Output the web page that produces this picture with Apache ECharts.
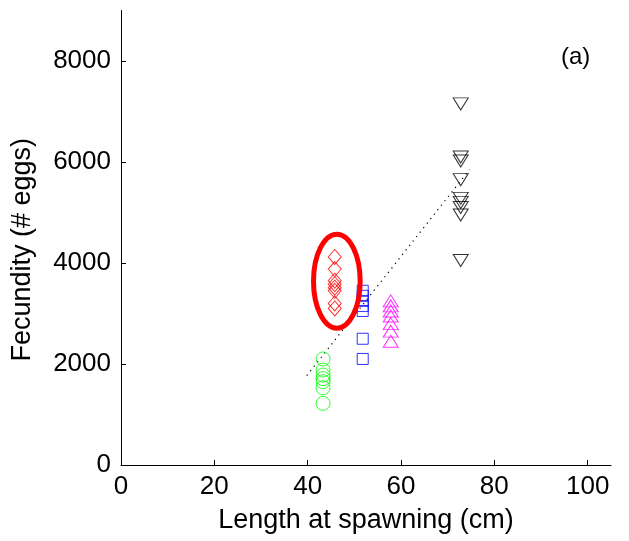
<!DOCTYPE html>
<html>
<head>
<meta charset="utf-8">
<script src="https://cdn.jsdelivr.net/npm/echarts@6/dist/echarts.min.js"></script>
<style>html,body{margin:0;padding:0;background:#fff;}#c{width:629px;height:541px;}</style>
</head>
<body>
<div id="c"></div>
<script>
// Data
var xTicks = [0, 20, 40, 60, 80, 100];
var yTicks = [0, 2000, 4000, 6000, 8000];

var greenX = 43.3;
var greenY = [2100, 1880, 1780, 1710, 1650, 1530, 1220];
var redX = 45.8;
var redY = [4120, 3880, 3650, 3580, 3510, 3450, 3200, 3100];
var blueX = 51.8;
var blueY = [3450, 3350, 3250, 3150, 3050, 2500, 2100];
var magentaX = 57.8;
var magentaY = [3250, 3150, 3050, 2950, 2800, 2650, 2450];
var blackX = 72.8;
var blackY = [7150, 6100, 6020, 5650, 5280, 5200, 5100, 4950, 4050];

var fitLine = [[39.8, 1770], [74.7, 5850]];
// highlight ellipse: centre and radii in data units
var ellipseCenter = [46.25, 3640];
var ellipseRadius = [5.0, 930];

function pts(x, ys) { return ys.map(function (y) { return [x, y]; }); }

var FONT = 'Liberation Sans, Arial, sans-serif';
var chart = echarts.init(document.getElementById('c'), null, {renderer: 'canvas'});

function hollow(color) {
  return {color: 'rgba(0,0,0,0)', borderColor: color, borderWidth: 1};
}
function plain(v) { return String(v); }

chart.setOption({
  animation: false,
  backgroundColor: '#fff',
  grid: {left: 121, right: 18, top: 10.5, bottom: 76, containLabel: false},
  xAxis: {
    type: 'value', min: 0, max: 105, interval: 20,
    name: 'Length at spawning (cm)', nameLocation: 'middle', nameGap: 42,
    nameTextStyle: {fontFamily: FONT, fontSize: 27, color: '#000'},
    axisLine: {show: true, lineStyle: {color: '#000', width: 1}},
    axisTick: {show: true, inside: true, length: 5, customValues: xTicks, lineStyle: {color: '#000'}},
    axisLabel: {customValues: xTicks, formatter: plain, fontFamily: FONT, fontSize: 26, color: '#000', margin: 9},
    splitLine: {show: false}
  },
  yAxis: {
    type: 'value', min: 0, max: 9000, interval: 2000,
    name: 'Fecundity (# eggs)', nameLocation: 'middle', nameGap: 85, nameRotate: 90,
    nameTextStyle: {fontFamily: FONT, fontSize: 27, color: '#000', padding: [0, 24, 0, 0]},
    axisLine: {show: true, lineStyle: {color: '#000', width: 1}},
    axisTick: {show: true, inside: true, length: 5, customValues: yTicks, lineStyle: {color: '#000'}},
    axisLabel: {customValues: yTicks, formatter: plain, fontFamily: FONT, fontSize: 26, color: '#000', margin: 10},
    splitLine: {show: false}
  },
  graphic: [{
    type: 'text', left: 561, top: 45,
    style: {text: '(a)', font: '24px ' + FONT, fill: '#000'}
  }],
  series: [
    {type: 'line', data: fitLine, symbol: 'none', silent: true,
     lineStyle: {color: '#000', width: 1.2, type: [1.2, 4.5]}, z: 1},
    {type: 'scatter', data: pts(greenX, greenY), symbol: 'circle', symbolSize: 14,
     itemStyle: hollow('#00ff00'), z: 2},
    {type: 'scatter', data: pts(redX, redY), symbol: 'diamond', symbolSize: [13, 15],
     itemStyle: hollow('#ff0000'), z: 2},
    {type: 'scatter', data: pts(blueX, blueY), symbol: 'rect', symbolSize: 11,
     itemStyle: hollow('#0000ff'), z: 2},
    {type: 'scatter', data: pts(magentaX, magentaY), symbol: 'triangle', symbolSize: [15, 12],
     itemStyle: hollow('#ff00ff'), z: 2},
    {type: 'scatter', data: pts(blackX, blackY), symbol: 'triangle', symbolRotate: 180, symbolSize: [15, 12],
     itemStyle: hollow('#000000'), z: 2},
    {type: 'custom', data: [ellipseCenter], z: 5, silent: true,
     renderItem: function (params, api) {
       var c = api.coord([api.value(0), api.value(1)]);
       var s = api.size([ellipseRadius[0], ellipseRadius[1]]);
       return {type: 'ellipse', shape: {cx: c[0], cy: c[1], rx: s[0], ry: s[1]},
               style: {fill: 'none', stroke: '#ff0000', lineWidth: 5}};
     }}
  ]
});
</script>
</body>
</html>
